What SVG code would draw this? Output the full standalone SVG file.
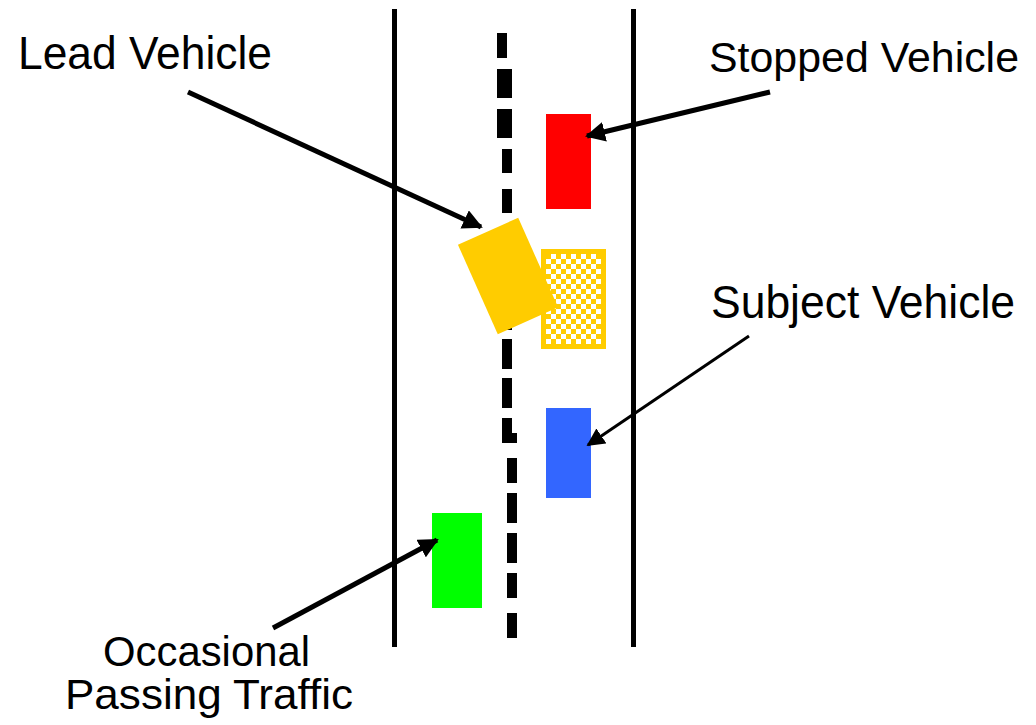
<svg xmlns="http://www.w3.org/2000/svg" width="1036" height="725" viewBox="0 0 1036 725">
<defs>
<style>
.lbl{font-family:"Liberation Sans",Arial,sans-serif;font-size:46px;fill:#000}
.lbl2{font-family:"Liberation Sans",Arial,sans-serif;font-size:42px;fill:#000}
.road{fill:#000}
.arr{stroke:#000;fill:none;stroke-linecap:butt}
</style>
<pattern id="chk" patternUnits="userSpaceOnUse" x="546" y="254" width="10" height="10">
<rect width="10" height="10" fill="#fff"/>
<rect width="5" height="5" fill="#FFCC00"/>
<rect x="5" y="5" width="5" height="5" fill="#FFCC00"/>
</pattern>
<marker id="head" viewBox="0 0 10 10" refX="9" refY="5" markerWidth="4" markerHeight="4" markerUnits="strokeWidth" orient="auto">
<path d="M0,0 L10,5 L0,10 z" fill="#000"/>
</marker>
<marker id="headThin" viewBox="0 0 10 10" refX="9" refY="5" markerWidth="6" markerHeight="6" markerUnits="strokeWidth" orient="auto">
<path d="M0,0 L10,5 L0,10 z" fill="#000"/>
</marker>
</defs>
<rect width="1036" height="725" fill="#fff"/>
<g id="road">
<rect class="road" x="392" y="9" width="5" height="638"/>
<rect class="road" x="631" y="9" width="5" height="638"/>
<g id="center-line">
<rect class="road" x="497" y="33" width="10" height="25"/>
<rect class="road" x="497" y="69" width="15" height="29"/>
<rect class="road" x="497" y="109" width="15" height="29"/>
<rect class="road" x="502" y="149" width="10" height="24"/>
<rect class="road" x="502" y="189" width="10" height="24"/>
<rect class="road" x="502" y="229" width="10" height="24"/>
<rect class="road" x="502" y="269" width="10" height="24"/>
<rect class="road" x="502" y="305" width="10" height="25"/>
<rect class="road" x="502" y="339" width="10" height="30"/>
<rect class="road" x="502" y="378" width="10" height="30"/>
<rect class="road" x="502" y="418" width="10" height="25"/>
<rect class="road" x="507" y="433" width="10" height="10"/>
<rect class="road" x="507" y="458" width="10" height="25"/>
<rect class="road" x="507" y="493" width="10" height="30"/>
<rect class="road" x="507" y="533" width="10" height="30"/>
<rect class="road" x="507" y="573" width="10" height="25"/>
<rect class="road" x="507" y="613" width="10" height="25"/>
</g>
</g>
<g id="stopped-vehicle">
<rect x="546" y="114" width="45" height="95" fill="#FF0000"/>
</g>
<g id="subject-vehicle">
<rect x="546" y="408" width="45" height="90" fill="#3366FF"/>
</g>
<g id="passing-vehicle">
<rect x="432" y="513" width="50" height="95" fill="#00FF00"/>
</g>
<g id="lane-change-ghost">
<rect x="543.5" y="251.5" width="60" height="95" fill="url(#chk)" stroke="#FFCC00" stroke-width="5"/>
</g>
<g id="lead-vehicle">
<rect x="-33" y="-49" width="66" height="98" fill="#FFCC00" transform="translate(508 276) rotate(-24)"/>
</g>
<g id="connectors">
<line class="arr" x1="188" y1="92" x2="481" y2="227" stroke-width="5" marker-end="url(#head)"/>
<line class="arr" x1="770" y1="92" x2="587" y2="136" stroke-width="5" marker-end="url(#head)"/>
<line class="arr" x1="749" y1="336" x2="588" y2="445" stroke-width="3" marker-end="url(#headThin)"/>
<line class="arr" x1="273" y1="628" x2="437" y2="540" stroke-width="5" marker-end="url(#head)"/>
</g>
<g id="labels">
<text class="lbl" x="18" y="69" textLength="254" lengthAdjust="spacingAndGlyphs">Lead Vehicle</text>
<text class="lbl" x="709" y="72" style="font-size:43px" textLength="310" lengthAdjust="spacingAndGlyphs">Stopped Vehicle</text>
<text class="lbl" x="711" y="318" textLength="304" lengthAdjust="spacingAndGlyphs">Subject Vehicle</text>
<text class="lbl2" x="103" y="666" textLength="207" lengthAdjust="spacingAndGlyphs">Occasional</text>
<text class="lbl2" x="65" y="709" textLength="288" lengthAdjust="spacingAndGlyphs">Passing Traffic</text>
</g>
</svg>
